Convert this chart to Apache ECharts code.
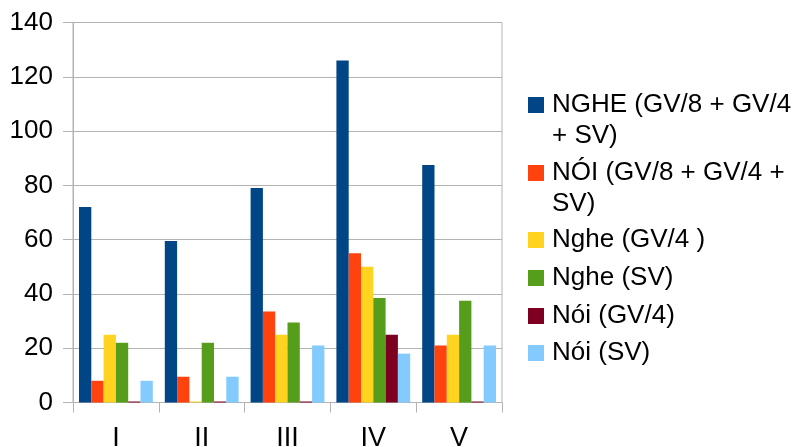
<!DOCTYPE html>
<html>
<head>
<meta charset="utf-8">
<script src="https://cdn.jsdelivr.net/npm/echarts@6/dist/echarts.min.js"></script>
<style>html,body{margin:0;padding:0;background:#fff}#c{width:795px;height:447px}</style>
</head>
<body>
<div id="c"></div>
<script>
var categories = ['I', 'II', 'III', 'IV', 'V'];
var seriesNames = ['NGHE (GV/8 + GV/4 + SV)', 'NÓI (GV/8 + GV/4 + SV)', 'Nghe (GV/4 )', 'Nghe (SV)', 'Nói (GV/4)', 'Nói (SV)'];
var legendTexts = ['NGHE (GV/8 + GV/4\n+ SV)', 'NÓI (GV/8 + GV/4 +\nSV)', 'Nghe (GV/4 )', 'Nghe (SV)', 'Nói (GV/4)', 'Nói (SV)'];
var ngheAll = [72, 59.5, 79, 126, 87.5];
var noiAll = [8, 9.5, 33.5, 55, 21];
var ngheGV4 = [25, 0, 25, 50, 25];
var ngheSV = [22, 22, 29.5, 38.5, 37.5];
var noiGV4 = [0, 0, 0, 25, 0];
var noiSV = [8, 9.5, 21, 18, 21];
var yTicks = [0, 20, 40, 60, 80, 100, 120, 140];

var colors = ['#004586', '#ff420e', '#ffd320', '#579d1c', '#7e0021', '#83caff'];
var allData = [ngheAll, noiAll, ngheGV4, ngheSV, noiGV4, noiSV];
var font = 'Liberation Sans';
var fs = 26;
var lh = 31;

// icon centres wanted at y = 105, 173, 240, 278, 316, 353
var legendTops = [58.5, 126.5, 224.5, 262.5, 300.5, 337.5];
var legends = seriesNames.map(function (n, i) {
  var two = legendTexts[i].indexOf('\n') >= 0;
  return {
    data: [n],
    orient: 'vertical',
    left: 528,
    top: legendTops[i],
    padding: 0,
    itemWidth: 16,
    itemHeight: 16,
    icon: 'rect',
    selectedMode: false,
    formatter: function () { return two ? '\n' + legendTexts[i] : legendTexts[i]; },
    textStyle: {
      fontFamily: font,
      fontSize: fs,
      lineHeight: lh,
      color: '#000',
      padding: [0, 0, 0, 3]
    }
  };
});

var series = seriesNames.map(function (n, i) {
  return {
    name: n,
    type: 'bar',
    data: allData[i],
    barGap: '0%',
    barCategoryGap: '14%',
    barMinHeight: 1,
    itemStyle: { color: colors[i] },
    emphasis: { disabled: true },
    animation: false
  };
});

var chart = echarts.init(document.getElementById('c'), null, { renderer: 'canvas' });
chart.setOption({
  animation: false,
  color: colors,
  legend: legends,
  grid: {
    left: 73, right: 293, top: 22.5, bottom: 44.5,
    show: true, borderColor: '#b3b3b3', borderWidth: 1, backgroundColor: 'transparent',
    containLabel: false,
    outerBoundsMode: 'none'
  },
  xAxis: {
    type: 'category',
    data: categories,
    boundaryGap: true,
    axisLine: { show: true, lineStyle: { color: '#b3b3b3', width: 1 } },
    axisTick: { show: true, length: 10, alignWithLabel: false, lineStyle: { color: '#b3b3b3' } },
    axisLabel: { fontFamily: font, fontSize: 27, color: '#000', margin: 23 },
    splitLine: { show: false }
  },
  yAxis: {
    type: 'value',
    min: 0, max: 140, interval: 20,
    axisLine: { show: true, lineStyle: { color: '#b3b3b3', width: 1 } },
    axisTick: { show: true, length: 10, lineStyle: { color: '#b3b3b3' } },
    axisLabel: {
      fontFamily: font, fontSize: fs, color: '#000', margin: 20,
      formatter: function (v) { return yTicks.indexOf(v) >= 0 ? String(v) : ''; }
    },
    splitLine: { show: true, lineStyle: { color: '#b3b3b3', width: 1 } }
  },
  series: series
});
</script>
</body>
</html>
